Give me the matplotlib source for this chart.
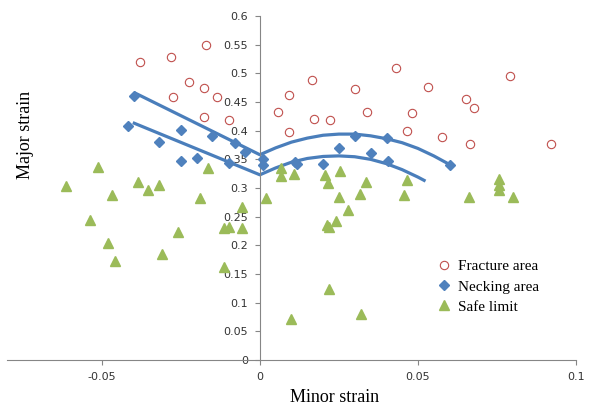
import numpy as np
import matplotlib
matplotlib.use('Agg')
import matplotlib.pyplot as plt

# Data (minor strain, major strain)
fracture_x = [-0.0379, -0.0280, -0.0171, -0.0225, -0.0274, -0.0176, -0.0137, -0.0178, -0.0097,
              0.0056, 0.0091, 0.0092, 0.0165, 0.0171, 0.0222, 0.0300, 0.0338, 0.0431, 0.0482,
              0.0466, 0.0533, 0.0575, 0.0653, 0.0677, 0.0666, 0.0791, 0.0922]
fracture_y = [0.519, 0.528, 0.550, 0.485, 0.458, 0.474, 0.459, 0.424, 0.419,
              0.432, 0.462, 0.397, 0.488, 0.421, 0.419, 0.473, 0.433, 0.509, 0.431,
              0.400, 0.476, 0.389, 0.455, 0.440, 0.377, 0.495, 0.377]

necking_x = [-0.0398, -0.0416, -0.0318, -0.0249, -0.0249, -0.0199, -0.0150, -0.0080, -0.0099,
             -0.0048, 0.0011, 0.0009, 0.0110, 0.0119, 0.0200, 0.0251, 0.0300, 0.0351, 0.0401,
             0.0404, 0.0600]
necking_y = [0.461, 0.408, 0.380, 0.401, 0.347, 0.352, 0.390, 0.379, 0.343,
             0.362, 0.351, 0.340, 0.345, 0.341, 0.342, 0.369, 0.390, 0.361, 0.387,
             0.347, 0.340]

safe_x = [-0.0612, -0.0512, -0.0469, -0.0538, -0.0479, -0.0459, -0.0386, -0.0353, -0.0319,
          -0.0259, -0.0309, -0.0189, -0.0163, -0.0114, -0.0099, -0.0057, -0.0057, -0.0113,
          0.0020, 0.0066, 0.0066, 0.0107, 0.0206, 0.0216, 0.0253, 0.0251, 0.0279, 0.0241,
          0.0212, 0.0219, 0.0335, 0.0316, 0.0466, 0.0457, 0.0663, 0.0755, 0.0755, 0.0755,
          0.0802, 0.0219, 0.0100, 0.0321]
safe_y = [0.303, 0.337, 0.287, 0.244, 0.204, 0.173, 0.310, 0.297, 0.305,
          0.224, 0.185, 0.282, 0.334, 0.230, 0.232, 0.266, 0.230, 0.163,
          0.282, 0.335, 0.321, 0.324, 0.323, 0.308, 0.330, 0.284, 0.262, 0.243,
          0.236, 0.232, 0.311, 0.289, 0.314, 0.288, 0.285, 0.315, 0.306, 0.297,
          0.285, 0.123, 0.071, 0.081]

# forming limit curves (upper / lower)
upper_x = [-0.0398, 0.0, 0.005, 0.01, 0.015, 0.02, 0.025, 0.03, 0.035, 0.04, 0.045, 0.05, 0.055, 0.06]
upper_y = [0.4665, 0.358, 0.370, 0.380, 0.387, 0.392, 0.394, 0.394, 0.391, 0.386, 0.379, 0.369, 0.356, 0.341]
lower_x = [-0.0402, 0.0, 0.005, 0.01, 0.015, 0.02, 0.025, 0.03, 0.035, 0.04, 0.045, 0.05, 0.0524]
lower_y = [0.414, 0.323, 0.335, 0.345, 0.3515, 0.355, 0.356, 0.3545, 0.350, 0.3425, 0.332, 0.319, 0.312]

x_ticks = [-0.05, 0, 0.05, 0.1]
x_labels = ['-0.05', '0', '0.05', '0.1']
y_ticks = [0, 0.05, 0.1, 0.15, 0.2, 0.25, 0.3, 0.35, 0.4, 0.45, 0.5, 0.55, 0.6]
y_labels = ['0', '0.05', '0.1', '0.15', '0.2', '0.25', '0.3', '0.35', '0.4', '0.45', '0.5', '0.55', '0.6']

fig = plt.figure(figsize=(5.91, 4.11), dpi=100)
ax = fig.add_axes([0.0118, 0.1241, 0.9628, 0.837])

ax.plot(upper_x, upper_y, color='#4A7EBB', lw=2.3, solid_capstyle='butt', zorder=2)
ax.plot(lower_x, lower_y, color='#4A7EBB', lw=2.3, solid_capstyle='butt', zorder=2)

ax.plot(fracture_x, fracture_y, ls='none', marker='o', ms=6, mfc='none',
        mec='#C0504D', mew=0.8, label='Fracture area', zorder=3)
ax.plot(necking_x, necking_y, ls='none', marker='D', ms=4.6, color='#4F81BD',
        label='Necking area', zorder=3)
ax.plot(safe_x, safe_y, ls='none', marker='^', ms=6.5, color='#9BBB59',
        label='Safe limit', zorder=3)

ax.set_xlim(-0.08, 0.1)
ax.set_ylim(0, 0.6)
ax.set_xticks(x_ticks)
ax.set_xticklabels(x_labels)
ax.set_yticks(y_ticks)
ax.set_yticklabels(y_labels)

for s in ['top', 'right']:
    ax.spines[s].set_visible(False)
ax.spines['left'].set_position(('data', 0))
for s in ['left', 'bottom']:
    ax.spines[s].set_color('#868686')
    ax.spines[s].set_linewidth(0.8)
ax.tick_params(axis='both', colors='#868686', labelcolor='#333333', labelsize=8,
               length=3.5, width=0.8, direction='out')
ax.tick_params(axis='y', pad=5)
ax.tick_params(axis='x', pad=5)
ax.patch.set_visible(False)

fig.text(335/591, 1-397/411, 'Minor strain', family='Liberation Serif', fontsize=13,
         ha='center', va='center')
fig.text(26/591, 1-135/411, 'Major strain', family='Liberation Serif', fontsize=13,
         ha='center', va='center', rotation=90)

ax.legend(loc='upper left', bbox_to_anchor=(0.738, 0.368), bbox_transform=fig.transFigure,
          frameon=False, prop={'family': 'Liberation Serif', 'size': 11},
          handlelength=1.0, handletextpad=0.45, labelspacing=0.42, borderpad=0,
          borderaxespad=0)

fig.savefig('out.png', dpi=100)
